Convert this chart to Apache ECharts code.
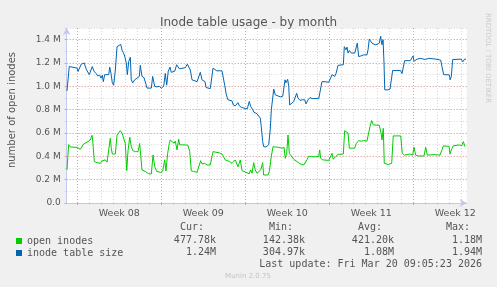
<!DOCTYPE html>
<html>
<head>
<meta charset="utf-8">
<script src="https://cdn.jsdelivr.net/npm/echarts@6/dist/echarts.min.js"></script>
<style>
html,body{margin:0;padding:0;background:#f0f0f0;}
#main{width:497px;height:287px;}
</style>
</head>
<body>
<div id="main"></div>
<script>
// x = days since Sat Feb 14 00:00, y = thousands of inodes
var xMin = 0.117, xMax = 33.45;
var weekLabels = ['Week 08', 'Week 09', 'Week 10', 'Week 11', 'Week 12'];
var weekStarts = [1, 8, 15, 22, 29];
var yLabelTicks = [0, 200, 400, 600, 800, 1000, 1200, 1400];

// inode table size
var sizeDays = [0.14,0.33,0.98,1.06,1.17,1.33,1.48,1.58,1.73,1.89,2.0,2.14,2.25,2.39,2.56,2.7,2.87,2.98,3.08,3.17,3.28,3.62,3.7,3.81,3.92,4.03,4.17,4.31,4.45,4.62,4.73,4.83,4.95,5.08,5.17,5.28,5.42,5.5,5.62,5.78,5.98,6.17,6.25,6.39,6.56,6.67,6.81,7.0,7.17,7.28,7.45,7.64,7.83,8.0,8.2,8.33,8.45,8.58,8.73,8.83,8.98,9.12,9.28,9.39,9.5,9.64,10.0,10.17,10.31,10.42,10.56,10.7,10.98,11.12,11.25,11.39,11.53,11.64,11.73,11.89,12.08,12.23,12.31,12.45,12.62,13.06,13.2,13.28,13.42,13.56,13.7,13.89,14.0,14.17,14.39,14.5,14.67,14.83,15.0,15.17,15.33,15.45,15.62,15.7,15.98,16.12,16.25,16.33,16.45,16.53,16.73,16.95,17.08,17.17,17.37,17.5,17.64,17.92,18.12,18.23,18.31,18.39,18.53,18.62,18.7,18.83,19.03,19.17,19.28,19.39,19.56,19.78,19.95,20.06,20.23,20.39,20.56,21.12,21.25,21.39,21.56,21.95,22.08,22.23,22.37,22.45,22.56,22.73,22.87,23.17,23.25,23.39,23.48,23.56,23.67,23.83,24.12,24.25,24.33,24.45,24.62,24.87,25.14,25.23,25.33,25.45,25.56,25.7,25.83,26.0,26.17,26.28,26.33,26.39,26.48,26.56,26.62,26.73,26.89,27.06,27.17,27.28,27.92,28.06,28.2,28.28,28.75,28.89,28.98,29.06,29.17,29.31,29.45,29.58,29.73,30.0,30.14,30.28,30.42,30.89,31.28,31.39,31.53,32.0,32.08,32.17,32.28,33.0,33.12,33.28,33.39];
var sizeValues = [960,1170,1156,1127,1127,1190,1180,1200,1150,1150,1100,1100,1170,1130,1110,1090,1095,1070,1095,1040,1100,1100,1165,1110,1030,1010,1140,1340,1356,1360,1310,1290,1260,1200,1100,1210,1250,1056,1030,1056,1070,1085,1180,1085,1075,1060,985,985,985,1085,1000,995,1000,985,1000,1110,1010,1130,1165,1120,1115,1130,1185,1200,1150,1160,1160,1190,1200,1140,1056,1040,1040,1056,1120,1056,1040,1040,990,980,980,990,1156,1150,1133,1133,1130,1010,927,884,870,875,840,833,860,833,820,810,810,810,870,827,800,780,764,770,727,655,526,483,480,500,630,800,976,927,910,910,915,930,1056,1030,1060,1000,840,856,870,870,940,900,880,885,885,850,885,904,895,895,910,1040,1040,1035,1040,1100,1110,1085,1110,1180,1180,1185,1340,1313,1336,1285,1307,1285,1285,1300,1370,1255,1260,1270,1270,1313,1405,1393,1370,1365,1356,1360,1370,1430,1390,1356,1400,1200,970,955,970,976,990,1136,1136,1110,1115,1220,1220,1215,1260,1215,1220,1233,1225,1240,1225,1230,1220,1240,1233,1233,1225,1170,1100,1098,1056,1085,1230,1233,1210,1233,1233];

// open inodes
var openDays = [0.14,0.28,0.42,0.98,1.25,1.39,1.53,1.67,1.89,2.08,2.23,2.28,2.42,2.64,2.92,3.06,3.2,3.33,3.48,3.62,3.75,3.83,3.92,4.06,4.17,4.31,4.45,4.58,4.73,4.89,5.0,5.12,5.23,5.37,5.5,5.62,5.83,6.06,6.2,6.28,6.39,6.56,6.73,6.95,7.17,7.31,7.45,7.62,7.78,7.95,8.12,8.28,8.39,8.53,8.67,8.75,8.89,9.06,9.17,9.31,9.45,9.53,10.0,10.22,10.37,10.5,10.7,10.98,11.12,11.28,11.39,11.62,11.81,12.08,12.23,12.31,12.45,12.83,13.06,13.2,13.33,13.48,13.7,13.89,14.03,14.17,14.31,14.39,14.5,14.58,14.73,14.87,15.14,15.33,15.45,15.56,15.7,15.83,15.98,16.12,16.28,16.45,16.53,16.67,16.89,17.0,17.17,17.31,17.5,17.78,18.06,18.23,18.33,18.45,18.56,18.67,18.83,19.03,19.17,19.31,19.58,19.87,20.0,20.14,20.28,20.5,20.7,21.12,21.2,21.28,21.45,21.95,22.08,22.23,22.33,22.45,22.56,22.73,23.17,23.28,23.39,23.56,23.67,24.12,24.25,24.45,24.67,24.87,25.14,25.25,25.39,25.53,25.67,26.17,26.31,26.39,26.5,26.58,26.64,26.92,27.2,27.33,27.95,28.08,28.25,28.72,28.95,29.06,29.2,29.42,29.89,30.03,30.17,30.67,31.22,31.39,31.5,31.98,32.06,32.17,32.33,32.83,33.03,33.17,33.31];
var openValues = [283,500,480,477,460,455,506,520,526,540,580,540,355,346,340,360,345,370,350,352,555,470,420,430,420,580,600,620,600,594,510,277,450,564,483,450,440,440,510,520,283,275,266,250,250,412,312,270,283,263,275,370,275,426,512,540,526,512,530,455,547,498,498,495,440,275,270,263,263,363,335,340,326,326,340,440,426,430,420,426,369,355,355,340,340,369,369,310,326,369,277,270,260,250,283,255,346,283,255,240,283,346,240,226,240,270,400,483,480,477,470,477,383,426,583,426,410,375,370,355,335,326,312,370,400,400,395,400,455,383,370,365,375,426,375,365,400,417,420,620,613,600,470,470,510,535,530,535,530,540,655,706,670,665,600,540,640,340,326,330,340,575,575,426,410,420,410,478,410,403,403,478,410,415,410,455,490,485,420,455,490,498,490,526,483];

var seriesNames = ['open inodes', 'inode table size'];
var statHeaders = ['Cur:', 'Min:', 'Avg:', 'Max:'];
var openStats = ['477.78k', '142.38k', '421.20k', '1.18M'];
var sizeStats = ['1.24M', '304.97k', '1.08M', '1.94M'];
var lastUpdate = 'Last update: Fri Mar 20 09:05:23 2026';

function zip(a, b) {
  var out = [];
  for (var i = 0; i < a.length; i++) out.push([a[i], b[i]]);
  return out;
}
var dayTicks = [];
for (var d = 1; d <= 33; d++) dayTicks.push(d);
var weekCenters = weekStarts.map(function (w) { return w + 3.5; });

var chart = echarts.init(document.getElementById('main'));
var mono = '"DejaVu Sans Mono", monospace';
var sans = '"DejaVu Sans", sans-serif';
var axisColor = '#c4c8ee';
var redGrid = '#e29a9a';
var grayGrid = '#d6d6d6';

var statCols = [216, 305, 394, 482];
var graphics = [];
statHeaders.forEach(function (h, i) {
  graphics.push({type: 'text', style: {text: h, x: statCols[i] - 12, y: 227, align: 'right', verticalAlign: 'middle', font: '10px ' + mono, fill: '#555'}});
  graphics.push({type: 'text', style: {text: openStats[i], x: statCols[i], y: 240, align: 'right', verticalAlign: 'middle', font: '10px ' + mono, fill: '#555'}});
  graphics.push({type: 'text', style: {text: sizeStats[i], x: statCols[i], y: 252, align: 'right', verticalAlign: 'middle', font: '10px ' + mono, fill: '#555'}});
});
graphics.push({type: 'text', style: {text: lastUpdate, x: 482, y: 264, align: 'right', verticalAlign: 'middle', font: '10px ' + mono, fill: '#555'}});
graphics.push({type: 'text', style: {text: 'Munin 2.0.75', x: 248, y: 276, align: 'center', verticalAlign: 'middle', font: '7px ' + sans, fill: '#c4c4c4'}});
graphics.push({type: 'text', rotation: -Math.PI / 2, x: 488, y: 58, style: {text: 'RRDTOOL / TOBI OETIKER', x: 0, y: 0, align: 'center', verticalAlign: 'middle', font: '7px ' + sans, fill: '#cccccc'}});
graphics.push({type: 'text', rotation: Math.PI / 2, x: 12, y: 110, style: {text: 'number of open inodes', x: 0, y: 0, align: 'center', verticalAlign: 'middle', font: '10px ' + sans, fill: '#555'}});

chart.setOption({
  backgroundColor: '#f0f0f0',
  animation: false,
  title: {
    text: 'Inode table usage - by month',
    left: 'center', top: 12,
    textStyle: {fontFamily: sans, fontSize: 12, fontWeight: 'normal', color: '#555'}
  },
  legend: {
    left: 11, top: 230, orient: 'vertical', itemGap: 0,
    icon: 'rect', itemWidth: 6, itemHeight: 6, selectedMode: false,
    textStyle: {fontFamily: mono, fontSize: 10, color: '#555', lineHeight: 12},
    data: seriesNames
  },
  grid: {left: 66.7, top: 28, right: 30.3, bottom: 84, show: true, backgroundColor: '#fff', borderWidth: 0},
  xAxis: [{
    type: 'value', min: xMin, max: xMax, position: 'bottom', z: 1,
    axisLine: {show: true, lineStyle: {color: axisColor}, symbol: ['none', 'arrow'], symbolSize: [6, 7]},
    axisTick: {show: true, length: 2, lineStyle: {color: redGrid}, customValues: weekStarts},
    axisLabel: {
      customValues: weekCenters, margin: 6,
      fontFamily: sans, fontSize: 9.5, color: '#555',
      formatter: function (v) { return weekLabels[Math.round((v - 4.5) / 7)]; }
    },
    splitLine: {show: true, lineStyle: {color: redGrid, type: [1, 2]}}
  }, {
    type: 'value', min: xMin, max: xMax, position: 'bottom', z: 0,
    axisLine: {show: false},
    axisTick: {show: true, length: 2, lineStyle: {color: grayGrid}, customValues: dayTicks},
    axisLabel: {show: false},
    splitLine: {show: true, lineStyle: {color: grayGrid, type: [1, 2]}}
  }],
  yAxis: [{
    type: 'value', min: 0, max: 1500, position: 'left', z: 1,
    axisLine: {show: true, lineStyle: {color: axisColor}, symbol: ['none', 'arrow'], symbolSize: [6, 7]},
    axisTick: {show: true, length: 2, lineStyle: {color: redGrid}, customValues: yLabelTicks},
    axisLabel: {
      customValues: yLabelTicks, margin: 6,
      fontFamily: sans, fontSize: 9, color: '#555',
      formatter: function (v) { return v === 0 ? '0.0' : (v / 1000).toFixed(1) + ' M'; }
    },
    splitLine: {show: true, lineStyle: {color: redGrid, type: [1, 2]}}
  }, {
    type: 'value', min: 0, max: 1500, interval: 100, position: 'left', z: 0,
    axisLine: {show: false},
    axisTick: {show: true, length: 2, lineStyle: {color: grayGrid}},
    axisLabel: {show: false},
    splitLine: {show: true, lineStyle: {color: grayGrid, type: [1, 2]}}
  }],
  series: [{
    name: seriesNames[0], type: 'line', xAxisIndex: 0, yAxisIndex: 0,
    showSymbol: false, color: '#00cc00', lineStyle: {width: 1},
    data: zip(openDays, openValues)
  }, {
    name: seriesNames[1], type: 'line', xAxisIndex: 0, yAxisIndex: 0,
    showSymbol: false, color: '#0066b3', lineStyle: {width: 1},
    data: zip(sizeDays, sizeValues)
  }],
  graphic: graphics
});
</script>
</body>
</html>
